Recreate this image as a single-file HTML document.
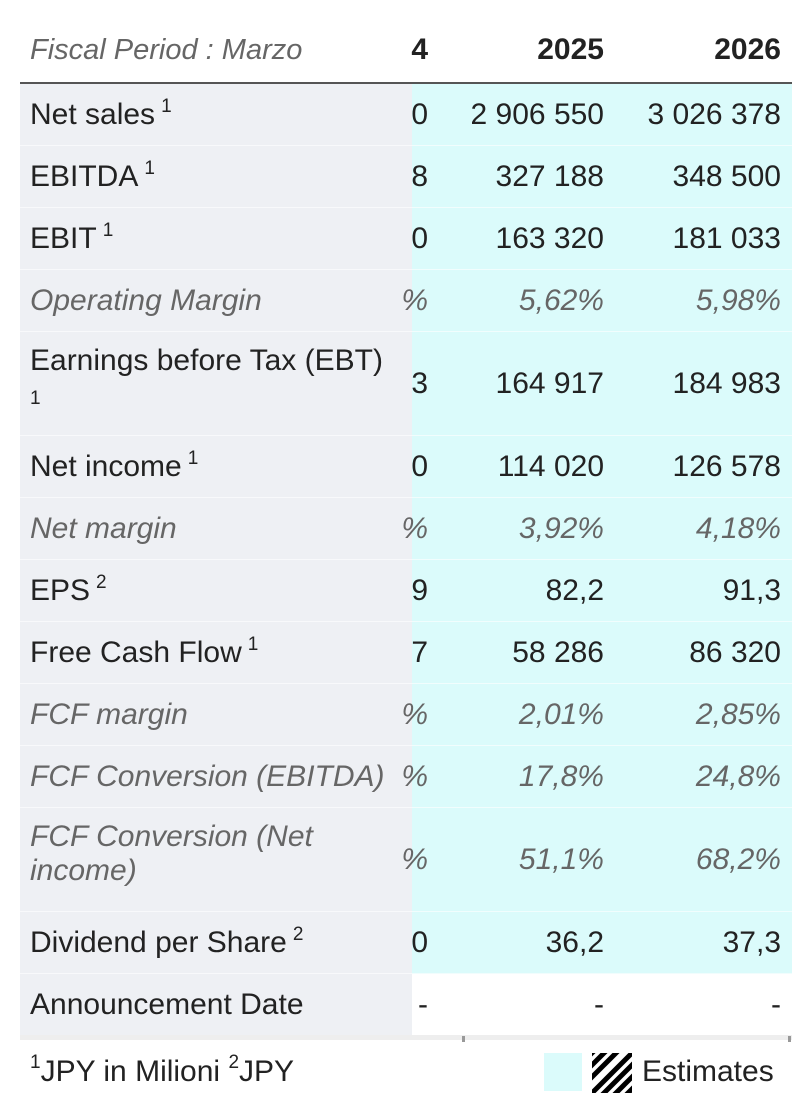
<!DOCTYPE html>
<html><head><meta charset="utf-8"><style>
body{margin:0;width:810px;height:1110px;background:#fff;font-family:"Liberation Sans",sans-serif;color:#222;position:relative;overflow:hidden}
.a{position:absolute}
.lab{left:30px;width:385px;font-size:30px;line-height:34px;white-space:nowrap}
.v{font-size:30px;line-height:34px;text-align:right;white-space:nowrap}
.it{font-style:italic;color:#666}
sup{font-size:19px;line-height:0;vertical-align:0;position:relative;top:-12px;margin-left:6px}
</style></head><body>
<div class="a" style="left:20px;top:84px;width:392px;height:952px;background:#eef0f4"></div>
<div class="a" style="left:412px;top:84px;width:380px;height:891px;background:#dbfbfb"></div>
<div class="a" style="left:20px;top:82px;width:772px;height:2px;background:#555"></div>
<div class="a" style="left:20px;top:1035px;width:772px;height:5px;background:#eee"></div>
<div class="a" style="left:462px;top:1036px;width:3px;height:6px;background:#999"></div>
<div class="a" style="left:788px;top:1036px;width:3px;height:6px;background:#999"></div>
<div class="a it" style="left:30px;top:34px;font-size:29px">Fiscal Period : Marzo</div>
<div class="a v" style="left:380px;width:48px;top:33px;font-weight:bold">4</div>
<div class="a v" style="left:440px;width:164px;top:33px;font-weight:bold">2025</div>
<div class="a v" style="left:620px;width:161px;top:33px;font-weight:bold">2026</div>
<div id="rows"></div>
<div class="a" style="left:30px;top:1055px;font-size:30px"><sup style="margin:0;top:-13px">1</sup>JPY in Milioni <sup style="margin:0;top:-13px">2</sup>JPY</div>
<div class="a" style="left:544px;top:1053px;width:38px;height:38px;background:#dbfbfb"></div>
<svg class="a" style="left:592px;top:1053px" width="40" height="40"><defs><clipPath id="c"><rect width="40" height="40"/></clipPath></defs><g clip-path="url(#c)" stroke="#000" stroke-width="5">
<line x1="-10" y1="10" x2="10" y2="-10"/><line x1="-10" y1="22" x2="22" y2="-10"/><line x1="-10" y1="34" x2="34" y2="-10"/><line x1="-6" y1="46" x2="46" y2="-6"/><line x1="6" y1="46" x2="46" y2="6"/><line x1="18" y1="46" x2="46" y2="18"/><line x1="30" y1="46" x2="46" y2="30"/></g></svg>
<div class="a" style="left:642px;top:1055px;font-size:30px">Estimates</div>
<script>
const labels=["Net sales","EBITDA","EBIT","Operating Margin","Earnings before Tax (EBT)","Net income","Net margin","EPS","Free Cash Flow","FCF margin","FCF Conversion (EBITDA)","FCF Conversion (Net<br>income)","Dividend per Share","Announcement Date"];
const sups=["1","1","1","","1","1","","2","1","","","","2",""];
const partial=["0","8","0","%","3","0","%","9","7","%","%","%","0","-"];
const v2025=["2 906 550","327 188","163 320","5,62%","164 917","114 020","3,92%","82,2","58 286","2,01%","17,8%","51,1%","36,2","-"];
const v2026=["3 026 378","348 500","181 033","5,98%","184 983","126 578","4,18%","91,3","86 320","2,85%","24,8%","68,2%","37,3","-"];
const italic=[0,0,0,1,0,0,1,0,0,1,1,1,0,0];
const heights=[62,62,62,62,104,62,62,62,62,62,62,104,62,61];
const root=document.getElementById('rows');
let y=84;
labels.forEach((l,i)=>{
  const h=heights[i], cy=y+h/2;
  const it=italic[i]?' it':'';
  if(i<labels.length-1){
    const sep=document.createElement('div');sep.className='a';
    
    
    sep.style.cssText=`left:20px;top:${y+h-1}px;width:772px;height:1px;background:rgba(255,255,255,0.6)`;root.appendChild(sep);
  } else {
    const w=document.createElement('div');w.className='a';
    
    
    w.style.cssText=`left:412px;top:${y}px;width:380px;height:${h}px;background:#fff`;root.appendChild(w);
  }
  const lab=document.createElement('div');lab.className='a lab'+it;
  
  
  let s=sups[i]?'<sup>'+sups[i]+'</sup>':'';
  if(i===4) s='<br><sup style="margin:0;top:0">'+sups[i]+'</sup>';
  lab.innerHTML=l+s;
  lab.style.top=(h>62?y+12:cy-17)+'px';
  root.appendChild(lab);
  [[partial,380,48,'value-partial'],[v2025,440,164,'value-2025'],[v2026,620,161,'value-2026']].forEach(([arr,x,w,n])=>{
    const d=document.createElement('div');d.className='a v'+it;
    
    
    d.style.cssText+=`left:${x}px;width:${w}px;top:${cy-17}px`;
    if(arr===partial) d.style.overflow='hidden';
    d.textContent=arr[i];root.appendChild(d);
  });
  y+=h;
});
</script>
</body></html>
